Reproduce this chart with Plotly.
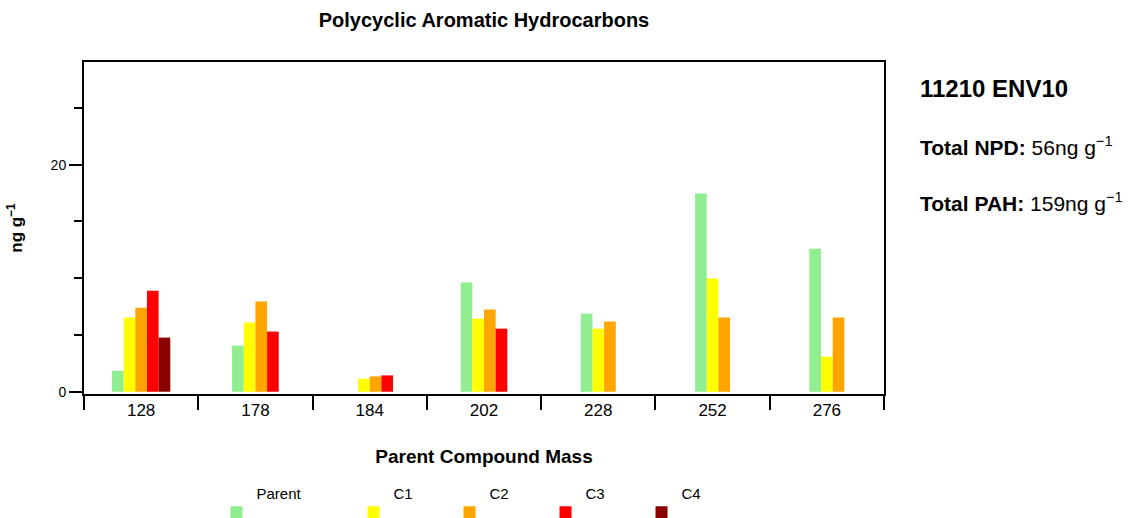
import plotly.graph_objects as go

# Parent compound masses (categories on the x axis)
masses = ["128", "178", "184", "202", "228", "252", "276"]

# Concentrations in ng/g for the parent compound and its alkylated homologues
parent = [1.85, 4.06, 0.0, 9.62, 6.88, 17.47, 12.6]
c1 = [6.53, 6.09, 1.15, 6.44, 5.56, 9.97, 3.09]
c2 = [7.4, 7.94, 1.35, 7.24, 6.18, 6.53, 6.53]
c3 = [8.9, 5.3, 1.44, 5.56, None, None, None]
c4 = [4.77, None, None, None, None, None, None]

series_names = ["Parent", "C1", "C2", "C3", "C4"]
series_colors = ["#90EE90", "#FFFF00", "#FFA500", "#FF0000", "#8B0000"]
series_values = [parent, c1, c2, c3, c4]

sample_id = "11210 ENV10"
total_npd = 56
total_pah = 159

FONT = "Liberation Sans, Arial, Helvetica, sans-serif"
BAR_W = 0.102

# bars present in each category are packed side by side and centred on it
counts = [sum(v[i] is not None for v in series_values) for i in range(len(masses))]
slot = [0] * len(masses)
offsets = []
for vals in series_values:
    off = []
    for i, v in enumerate(vals):
        if v is None:
            off.append(0)
        else:
            off.append(-counts[i] * BAR_W / 2 + slot[i] * BAR_W)
            slot[i] += 1
    offsets.append(off)

fig = go.Figure()
for k, (name, color, vals, off) in enumerate(zip(series_names, series_colors, series_values, offsets)):
    fig.add_trace(go.Bar(
        x=masses, y=vals, name=name + "<br> ",
        width=BAR_W, offset=off,
        marker=dict(color=color, line=dict(width=0)),
        legend="legend" if k == 0 else "legend2",
    ))

legend_common = dict(
    orientation="h", yref="container", y=0.080, xanchor="left", yanchor="top",
    valign="bottom", font=dict(size=15, family=FONT), itemclick=False,
    bgcolor="rgba(0,0,0,0)",
)

fig.update_layout(
    width=1133, height=518,
    margin=dict(l=84, r=249, t=62, b=124),
    paper_bgcolor="white", plot_bgcolor="white",
    barmode="overlay",
    font=dict(family=FONT, color="black", size=15),
    title=dict(
        text="<b>Polycyclic Aromatic Hydrocarbons</b>",
        x=0.5, xref="paper", xanchor="center",
        y=1 - 20 / 518, yref="container", yanchor="middle",
        font=dict(size=20, family=FONT),
    ),
    showlegend=True,
    legend=dict(x=0.1656, **legend_common),
    legend2=dict(x=0.3369, entrywidth=51, **legend_common),
)

fig.update_xaxes(
    type="category", range=[-0.5, 6.5], automargin=False,
    showline=True, linewidth=2, linecolor="black", mirror=True,
    ticks="outside", tickson="boundaries", ticklen=14, tickwidth=2, tickcolor="black",
    showgrid=False, zeroline=False,
    tickfont=dict(size=17),
    title=dict(text="<b>Parent Compound Mass</b>", font=dict(size=19), standoff=30),
)
fig.update_yaxes(
    range=[-0.2, 29.05], automargin=False,
    showline=True, linewidth=2, linecolor="black", mirror=True,
    tickmode="array", tickvals=[0, 20],
    ticks="outside", ticklen=13, tickwidth=2, tickcolor="black",
    minor=dict(dtick=5, tick0=0, ticks="outside", ticklen=8, tickwidth=2, tickcolor="black"),
    showgrid=False, zeroline=False,
    tickfont=dict(size=14),
    title=dict(text="<b>ng g<sup>−1</sup></b>", font=dict(size=17), standoff=24),
)

# Sample identifier and totals beside the plot
fig.add_annotation(
    x=1.0425, y=(394 - 88) / 332, xref="paper", yref="paper",
    xanchor="left", yanchor="middle", showarrow=False,
    text="<b>" + sample_id + "</b>", font=dict(size=24, family=FONT),
)
fig.add_annotation(
    x=1.0425, y=(394 - 146) / 332, xref="paper", yref="paper",
    xanchor="left", yanchor="middle", showarrow=False,
    text="<b>Total NPD:</b> %dng g<sup>−1</sup>" % total_npd, font=dict(size=21, family=FONT),
)
fig.add_annotation(
    x=1.0425, y=(394 - 202) / 332, xref="paper", yref="paper",
    xanchor="left", yanchor="middle", showarrow=False,
    text="<b>Total PAH:</b> %dng g<sup>−1</sup>" % total_pah, font=dict(size=21, family=FONT),
)

fig.write_html("out.html")
